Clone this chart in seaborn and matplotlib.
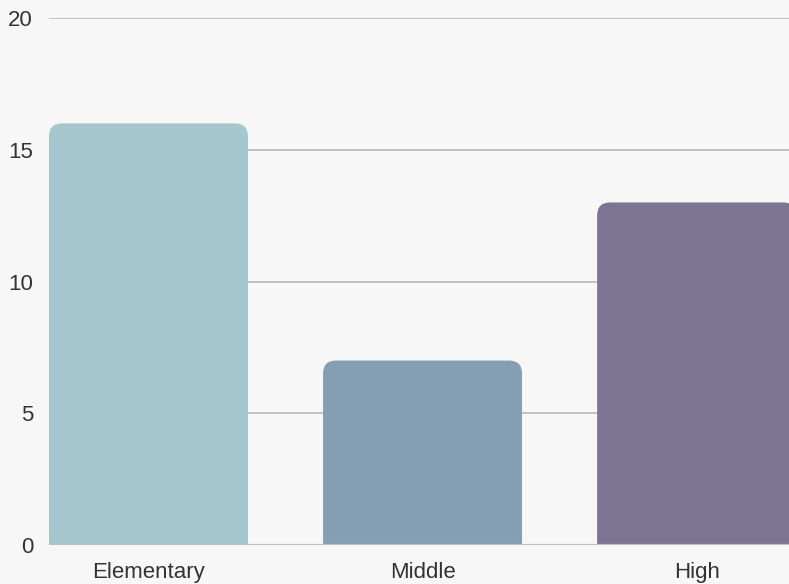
import matplotlib
matplotlib.use("Agg")
import matplotlib.pyplot as plt
from matplotlib.patches import FancyBboxPatch
import seaborn as sns
import pandas as pd

# School level enrollment counts
levels = ["Elementary", "Middle", "High"]
counts = [16, 7, 13]
bar_colors = ["#a5c7cd", "#849eb4", "#7b7593"]
y_ticks = [0, 5, 10, 15, 20]

sns.set_theme(style="white")
plt.rcParams["font.family"] = ["Liberation Sans", "DejaVu Sans"]

bg = "#f7f7f7"
grid_color = "#bdbdbd"
text_color = "#333333"

fig = plt.figure(figsize=(7.89, 5.84), dpi=100, facecolor=bg)
W, H = 789, 584
ax = fig.add_axes([49 / W, (H - 545) / H, (W - 49) / W, (545 - 18) / H])
ax.set_facecolor(bg)

df = pd.DataFrame({"level": levels, "count": counts})
sns.barplot(data=df, x="level", y="count", hue="level", palette=bar_colors,
            width=0.726, legend=False, ax=ax, saturation=1)

ax.set_xlim(-0.363, 2.337)
ax.set_ylim(0, 20)
ax.set_yticks(y_ticks)

# Replace plain rectangles with top-rounded bars
px_x = ax.get_position().width * W / (ax.get_xlim()[1] - ax.get_xlim()[0])
px_y = ax.get_position().height * H / (ax.get_ylim()[1] - ax.get_ylim()[0])
radius_px = 13
rx = radius_px / px_x
aspect = px_x / px_y
for patch in list(ax.patches):
    x0, w, h = patch.get_x(), patch.get_width(), patch.get_height()
    color = patch.get_facecolor()
    patch.set_visible(False)
    rounded = FancyBboxPatch((x0, -2), w, h + 2,
                             boxstyle=f"round,pad=0,rounding_size={rx}",
                             mutation_aspect=aspect,
                             facecolor=color, edgecolor="none", zorder=2)
    ax.add_patch(rounded)

for y in y_ticks[1:]:
    ax.axhline(y, color=grid_color, linewidth=1.3, zorder=1)
ax.axhline(0, color=grid_color, linewidth=1.6, zorder=3)

for s in ax.spines.values():
    s.set_visible(False)
ax.tick_params(axis="both", length=0, labelsize=16, colors=text_color)
ax.tick_params(axis="y", pad=11.5)
ax.tick_params(axis="x", pad=12)
ax.set_xlabel("")
ax.set_ylabel("")

fig.savefig("out.png", dpi=100, facecolor=bg)
